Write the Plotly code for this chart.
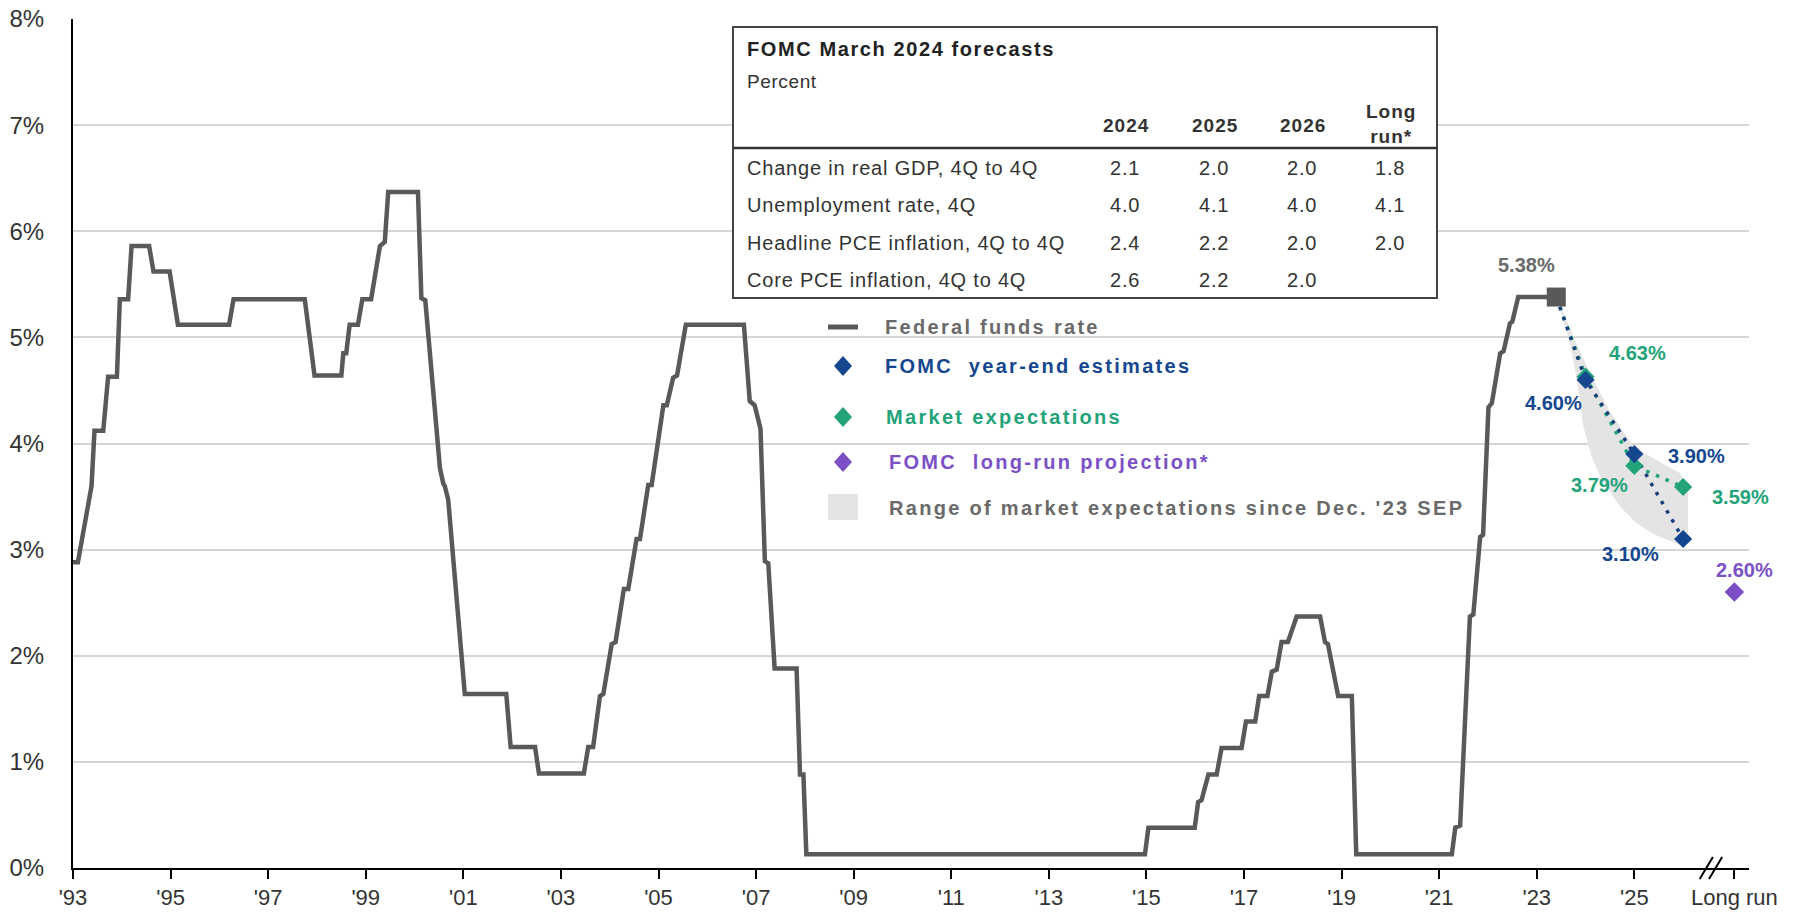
import plotly.graph_objects as go

# ---------------------------------------------------------------- data
# Federal funds rate (step path, decimal years on the chart's time axis)
ffr_dates = [
    1993.00, 1993.10, 1993.38, 1993.44, 1993.62, 1993.72, 1993.90, 1993.96,
    1994.13, 1994.20, 1994.56, 1994.65, 1994.98, 1995.15, 1996.20, 1996.29,
    1997.75, 1997.95, 1998.50, 1998.54, 1998.60, 1998.67, 1998.84, 1998.93,
    1999.11, 1999.29, 1999.39, 1999.46, 2000.07, 2000.14, 2000.22, 2000.52,
    2000.59, 2000.62, 2000.69, 2001.03, 2001.88, 2001.97, 2002.47, 2002.55,
    2003.47, 2003.56, 2003.66, 2003.80, 2003.87, 2004.04, 2004.12, 2004.29,
    2004.38, 2004.55, 2004.62, 2004.79, 2004.86, 2005.10, 2005.17, 2005.30,
    2005.38, 2005.56, 2006.75, 2006.87, 2006.97, 2007.09, 2007.18, 2007.25,
    2007.38, 2007.83, 2007.90, 2007.97, 2008.03, 2014.97, 2015.04, 2015.99,
    2016.06, 2016.13, 2016.27, 2016.44, 2016.54, 2016.95, 2017.04, 2017.23,
    2017.31, 2017.48, 2017.57, 2017.67, 2017.77, 2017.90, 2018.08, 2018.56,
    2018.66, 2018.72, 2018.93, 2019.21, 2019.30, 2021.26, 2021.33, 2021.43,
    2021.63, 2021.70, 2021.84, 2021.90, 2022.01, 2022.08, 2022.25, 2022.32,
    2022.45, 2022.50, 2022.62, 2023.40,
]
ffr_values = [
    2.88, 2.88, 3.60, 4.12, 4.12, 4.63, 4.63, 5.36,
    5.36, 5.86, 5.86, 5.62, 5.62, 5.12, 5.12, 5.36,
    5.36, 4.64, 4.64, 4.85, 4.85, 5.12, 5.12, 5.36,
    5.36, 5.86, 5.90, 6.37, 6.37, 5.37, 5.35, 3.77,
    3.62, 3.60, 3.47, 1.64, 1.64, 1.14, 1.14, 0.89,
    0.89, 1.14, 1.14, 1.62, 1.64, 2.11, 2.13, 2.63,
    2.63, 3.10, 3.10, 3.61, 3.61, 4.36, 4.36, 4.62,
    4.64, 5.12, 5.12, 4.40, 4.36, 4.14, 2.89, 2.87,
    1.88, 1.88, 0.88, 0.88, 0.13, 0.13, 0.38, 0.38,
    0.62, 0.64, 0.88, 0.88, 1.13, 1.13, 1.38, 1.38,
    1.62, 1.62, 1.85, 1.87, 2.13, 2.13, 2.37, 2.37,
    2.13, 2.11, 1.62, 1.62, 0.13, 0.13, 0.38, 0.40,
    2.37, 2.39, 3.12, 3.14, 4.34, 4.38, 4.85, 4.87,
    5.13, 5.15, 5.38, 5.38,
]
ffr_latest_date = 2023.40
ffr_latest = 5.38

# FOMC median year-end estimates and market-implied path
proj_years = [2024.0, 2025.0, 2026.0]
fomc_estimates = [4.60, 3.90, 3.10]
market_expectations = [4.63, 3.79, 3.59]
long_run_pos = 2027.05
long_run_projection = 2.60

# Range of market expectations since the Dec. '23 SEP (outline of the band)
range_x = [2023.40, 2024.03, 2024.50, 2025.00, 2025.94, 2026.10, 2026.10,
           2026.00, 2025.79, 2025.38, 2025.04, 2024.70, 2024.33, 2024.12,
           2023.94, 2023.87, 2023.80, 2023.66, 2023.46, 2023.40]
range_y = [5.38, 4.72, 4.30, 3.96, 3.72, 3.60, 3.10,
           3.04, 3.07, 3.15, 3.25, 3.41, 3.66, 3.88,
           4.19, 4.47, 4.66, 4.98, 5.29, 5.38]

# Axis ticks
year_ticks = list(range(1993, 2026, 2))
year_labels = ["'" + str(y)[2:] for y in year_ticks]
long_run_label = "Long run"
pct_ticks = list(range(0, 9))
pct_labels = [f"{v}%" for v in pct_ticks]

# FOMC March 2024 forecast table
table_title = "FOMC March 2024 forecasts"
table_unit = "Percent"
table_columns = ["2024", "2025", "2026", "Long<br>run*"]
table_rows = [
    "Change in real GDP, 4Q to 4Q",
    "Unemployment rate, 4Q",
    "Headline PCE inflation, 4Q to 4Q",
    "Core PCE inflation, 4Q to 4Q",
]
table_values = [
    ["2.1", "2.0", "2.0", "1.8"],
    ["4.0", "4.1", "4.0", "4.1"],
    ["2.4", "2.2", "2.0", "2.0"],
    ["2.6", "2.2", "2.0", ""],
]

legend_labels = [
    "Federal funds rate",
    "FOMC  year-end estimates",
    "Market expectations",
    "FOMC  long-run projection*",
    "Range of market expectations since Dec. '23 SEP",
]

# ---------------------------------------------------------------- style
W, H = 1796, 914
ML, MR, MT, MB = 73, 47, 19, 46
PW = W - ML - MR
PH = H - MT - MB

FONT = "Liberation Sans, Arial, sans-serif"
GREY_LINE = "#595959"
GREY_TEXT = "#6a6a6a"
NAVY = "#15478f"
GREEN = "#22a37a"
PURPLE = "#7b50c6"
RANGE_FILL = "#e4e4e4"
TEXT = "#333333"


def px(x):
    """pixel x -> paper fraction"""
    return (x - ML) / PW


def py(y):
    """pixel y (from top) -> paper fraction"""
    return (H - MB - y) / PH


def spaced(s, sp):
    return f'<span style="letter-spacing:{sp}px">{s}</span>'


fig = go.Figure()

# market-expectation range band
fig.add_trace(go.Scatter(
    x=range_x, y=range_y, mode="lines", fill="toself",
    fillcolor=RANGE_FILL, line=dict(width=0, color=RANGE_FILL),
    hoverinfo="skip", showlegend=False,
))

# federal funds rate
fig.add_trace(go.Scatter(
    x=ffr_dates, y=ffr_values, mode="lines",
    line=dict(color=GREY_LINE, width=4.5), showlegend=False,
))

# dotted paths from the latest rate through the projections
fig.add_trace(go.Scatter(
    x=[ffr_latest_date] + proj_years, y=[ffr_latest] + market_expectations,
    mode="lines", line=dict(color=GREEN, width=3.5, dash="3.5px,7px"),
    showlegend=False,
))
fig.add_trace(go.Scatter(
    x=[ffr_latest_date] + proj_years, y=[ffr_latest] + fomc_estimates,
    mode="lines", line=dict(color="#173f7c", width=3.5, dash="3.5px,7px"),
    showlegend=False,
))

# markers
fig.add_trace(go.Scatter(
    x=proj_years, y=market_expectations, mode="markers",
    marker=dict(symbol="diamond", size=14, color=GREEN), showlegend=False,
))
fig.add_trace(go.Scatter(
    x=proj_years, y=fomc_estimates, mode="markers",
    marker=dict(symbol="diamond", size=14, color=NAVY), showlegend=False,
))
fig.add_trace(go.Scatter(
    x=[long_run_pos], y=[long_run_projection], mode="markers",
    marker=dict(symbol="diamond", size=15, color=PURPLE), showlegend=False,
))
fig.add_trace(go.Scatter(
    x=[ffr_latest_date], y=[ffr_latest], mode="markers",
    marker=dict(symbol="square", size=19, color=GREY_LINE), showlegend=False,
))

annotations = []
shapes = []


def value_label(x, y, color, dx, dy):
    annotations.append(dict(
        x=x, y=y, xref="x", yref="y", text=f"{y:.2f}%", showarrow=False,
        xshift=dx, yshift=dy,
        font=dict(family=FONT, size=20, color=color, weight="bold"),
    ))


value_label(ffr_latest_date, ffr_latest, GREY_TEXT, -30, 32)
value_label(proj_years[0], market_expectations[0], GREEN, 52, 24)
value_label(proj_years[0], fomc_estimates[0], NAVY, -32, -23)
value_label(proj_years[1], fomc_estimates[1], NAVY, 62, -2)
value_label(proj_years[1], market_expectations[1], GREEN, -35, -19)
value_label(proj_years[2], market_expectations[2], GREEN, 57, -10)
value_label(proj_years[2], fomc_estimates[2], NAVY, -53, -15)
value_label(long_run_pos, long_run_projection, PURPLE, 10, 22)

# ---------------------------------------------------------------- table
tx0, tx1, ty0, ty1 = 733, 1437, 27, 298
shapes.append(dict(type="rect", xref="paper", yref="paper",
                   x0=px(tx0), x1=px(tx1), y0=py(ty1), y1=py(ty0),
                   line=dict(color="#444444", width=2), fillcolor="white",
                   layer="above"))
shapes.append(dict(type="line", xref="paper", yref="paper",
                   x0=px(tx0), x1=px(tx1), y0=py(148), y1=py(148),
                   line=dict(color="#333333", width=2.5), layer="above"))


def table_text(text, x, y, anchor="left", bold=False, size=20, sp=0.8,
               color=TEXT):
    annotations.append(dict(
        x=px(x), y=py(y), xref="paper", yref="paper", xanchor=anchor,
        yanchor="middle", text=spaced(text, sp), showarrow=False,
        align="center",
        font=dict(family=FONT, size=size, color=color,
                  weight="bold" if bold else "normal"),
    ))


table_text(table_title, 745, 49, bold=True, sp=1.6, color="#222222")
table_text(table_unit, 745, 82, size=19, sp=0.6)
col_x = [1126, 1215, 1303, 1391]
for cx, col in zip(col_x, table_columns):
    table_text(col, cx, 124 if "<br>" in col else 125, anchor="center",
               bold=True, size=19, sp=1.0)
row_y = [168, 205, 243, 280]
for ry, label, vals in zip(row_y, table_rows, table_values):
    table_text(label, 745, ry, sp=0.8)
    for cx, v in zip(col_x, vals):
        if v:
            table_text(v, cx - 1, ry, anchor="center", sp=0.8)

# ---------------------------------------------------------------- legend
leg_y = [327, 366, 417, 462, 508]
leg_cx = 843
leg_colors = [GREY_TEXT, NAVY, GREEN, PURPLE, GREY_TEXT]
shapes.append(dict(type="line", xref="paper", yref="paper",
                   x0=px(828), x1=px(858), y0=py(leg_y[0]), y1=py(leg_y[0]),
                   line=dict(color=GREY_LINE, width=5)))


def diamond(cx, cy, hw, hh, color):
    path = (f"M{px(cx - hw)},{py(cy)} L{px(cx)},{py(cy - hh)} "
            f"L{px(cx + hw)},{py(cy)} L{px(cx)},{py(cy + hh)} Z")
    shapes.append(dict(type="path", xref="paper", yref="paper", path=path,
                       fillcolor=color, line=dict(width=0)))


diamond(leg_cx, leg_y[1], 9, 10, NAVY)
diamond(leg_cx, leg_y[2], 9, 10, GREEN)
diamond(leg_cx, leg_y[3], 9, 10, PURPLE)
shapes.append(dict(type="rect", xref="paper", yref="paper",
                   x0=px(828), x1=px(858), y0=py(520), y1=py(494),
                   fillcolor=RANGE_FILL, line=dict(width=0)))
leg_tx = [883, 883, 884, 887, 887]
for lx, ly, lab, col in zip(leg_tx, leg_y, legend_labels, leg_colors):
    annotations.append(dict(
        x=px(lx), y=py(ly), xref="paper", yref="paper", xanchor="left",
        yanchor="middle", text=spaced(lab, 2.3), showarrow=False,
        font=dict(family=FONT, size=20, color=col, weight="bold"),
    ))

# ---------------------------------------------------------------- axis break
for xa, xb in [(2026.34, 2026.61), (2026.53, 2026.80)]:
    shapes.append(dict(type="line", xref="x", yref="paper",
                       x0=xa, x1=xb, y0=-0.013, y1=0.013,
                       line=dict(color="black", width=2)))

fig.update_layout(
    width=W, height=H,
    margin=dict(l=ML, r=MR, t=MT, b=MB, pad=0, autoexpand=False),
    paper_bgcolor="white", plot_bgcolor="white",
    showlegend=False,
    annotations=annotations, shapes=shapes,
    font=dict(family=FONT, color=TEXT),
    xaxis=dict(
        range=[1993, 2027.35], tickvals=year_ticks + [long_run_pos],
        ticktext=year_labels + [long_run_label], automargin=False,
        showgrid=False, zeroline=False, showline=True, linecolor="black",
        linewidth=2, ticks="outside", ticklen=9, tickwidth=2,
        tickcolor="black", ticklabelstandoff=0,
        tickfont=dict(family=FONT, size=22, color=TEXT),
    ),
    yaxis=dict(
        range=[0, 8], tickvals=pct_ticks, ticktext=pct_labels,
        automargin=False,
        showgrid=True, gridcolor="#d6d6d6", gridwidth=1.5, zeroline=False,
        showline=True, linecolor="black", linewidth=2, ticks="",
        ticklabelstandoff=22,
        tickfont=dict(family=FONT, size=24, color=TEXT),
    ),
)

fig.write_html("out.html")
